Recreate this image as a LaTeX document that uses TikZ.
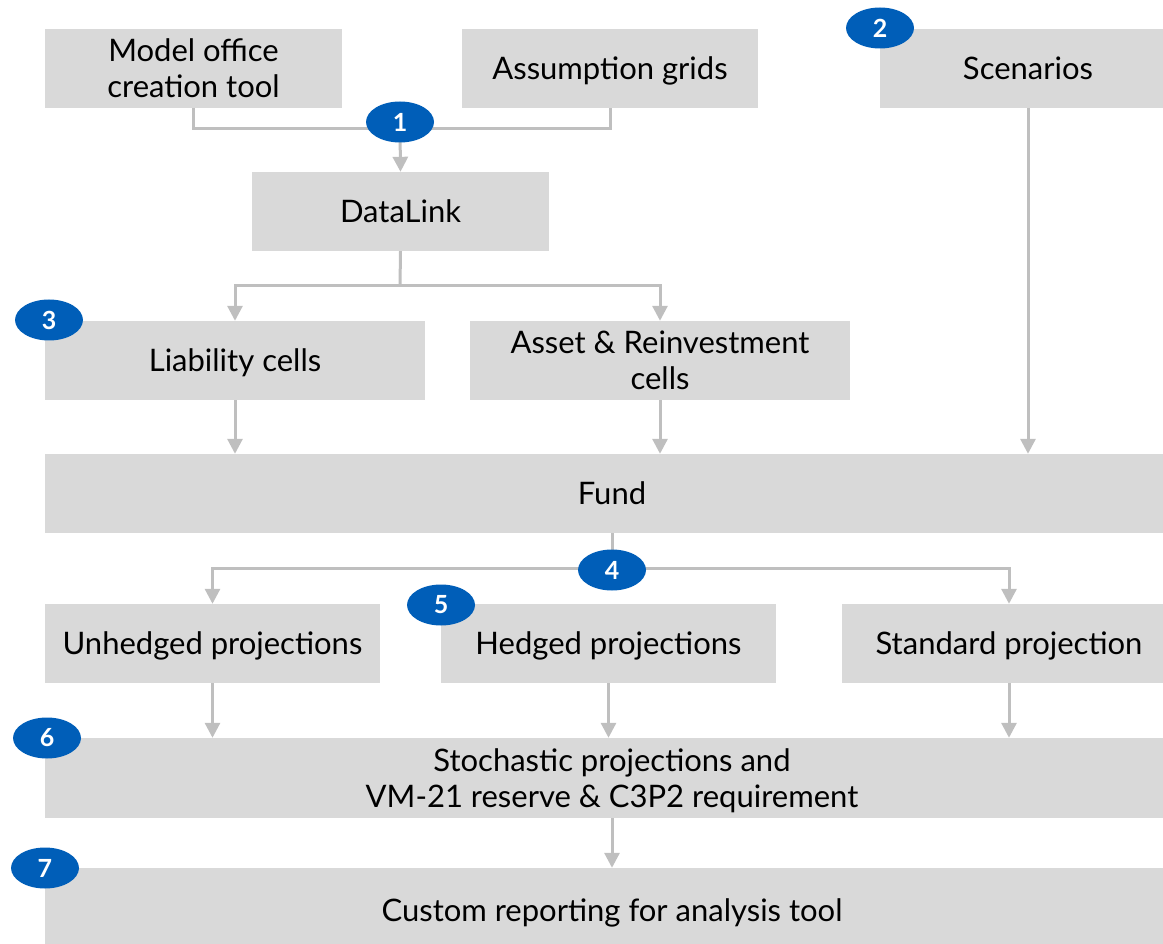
\documentclass[tikz,border=0pt]{standalone}
\usepackage{fontspec}
\setmainfont{Lato}
\usetikzlibrary{arrows.meta,shapes.geometric}
\definecolor{boxgray}{HTML}{D9D9D9}
\definecolor{linegray}{HTML}{BFBFBF}
\definecolor{badgeblue}{HTML}{005EB8}
\tikzset{
  box/.style={fill=boxgray, draw=none, inner sep=0pt, align=center, text depth=0pt, font=\fontsize{31}{36}\selectfont, text=black},
  badge/.style={ellipse, fill=badgeblue, minimum width=68pt, minimum height=41pt, inner sep=0pt, text=white, font=\fontsize{25}{25}\selectfont\bfseries},
  conn/.style={draw=linegray, line width=3pt},
  arr/.style={conn, -{Triangle[width=15pt,length=15pt]}},
}
\begin{document}
\begin{tikzpicture}[x=1pt,y=-1pt]
\useasboundingbox (0,0) rectangle (1163,944);
\clip (0,0) rectangle (1163,944);
% boxes
\node[box, minimum width=297pt, minimum height=79pt] (mo) at (193.5,68.5) {Model office\\creation tool};
\node[box, minimum width=296pt, minimum height=79pt] (ag) at (610,68.5) {Assumption grids};
\node[box, minimum width=296pt, minimum height=79pt] (sc) at (1028,68.5) {Scenarios};
\node[box, minimum width=297pt, minimum height=79pt] (dl) at (400.5,211.5) {DataLink};
\node[box, minimum width=380pt, minimum height=79pt] (lc) at (235,360.5) {Liability cells};
\node[box, minimum width=380pt, minimum height=79pt] (ar) at (660,360.5) {Asset \& Reinvestment\\cells};
\node[box, minimum width=1134pt, minimum height=79pt] (fund) at (612,493.5) {Fund};
\node[box, minimum width=335pt, minimum height=79pt] (uh) at (212.5,643.5) {Unhedged projections};
\node[box, minimum width=335pt, minimum height=79pt] (hp) at (608.5,643.5) {Hedged projections};
\node[box, minimum width=334pt, minimum height=79pt] (sp) at (1009,643.5) {Standard projection};
\node[box, minimum width=1134pt, minimum height=80pt] (st) at (612,778) {Stochastic projections and\\VM-21 reserve \& C3P2 requirement};
\node[box, minimum width=1134pt, minimum height=84pt] (cr) at (612,910) {Custom reporting for analysis tool};
% junctions
\coordinate (j1) at (400,129);
\coordinate (j2) at (400,286);
\coordinate (j4) at (612,568);
% connectors
\draw[conn] (mo.south) |- (j1);
\draw[conn] (ag.south) |- (j1);
\draw[arr] (j1) -- (dl.north);
\draw[conn] (dl.south) -- (j2);
\draw[arr] (j2) -| (lc.north);
\draw[arr] (j2) -| (ar.north);
\draw[arr] (lc.south) -- (lc.south |- fund.north);
\draw[arr] (ar.south) -- (ar.south |- fund.north);
\draw[arr] (sc.south) -- (sc.south |- fund.north);
\draw[conn] (fund.south) -- (j4);
\draw[arr] (j4) -| (uh.north);
\draw[arr] (j4) -| (sp.north);
\draw[arr] (uh.south) -- (uh.south |- st.north);
\draw[arr] (hp.south) -- (hp.south |- st.north);
\draw[arr] (sp.south) -- (sp.south |- st.north);
\draw[arr] (st.south) -- (st.south |- cr.north);
% badges
\node[badge] (b1) at (400,122) {1};
\node[badge] (b2) at (880,28) {2};
\node[badge] (b3) at (49,320) {3};
\node[badge] (b4) at (612,570) {4};
\node[badge] (b5) at (441,605) {5};
\node[badge] (b6) at (47,738) {6};
\node[badge] (b7) at (45,868) {7};
\end{tikzpicture}
\end{document}
